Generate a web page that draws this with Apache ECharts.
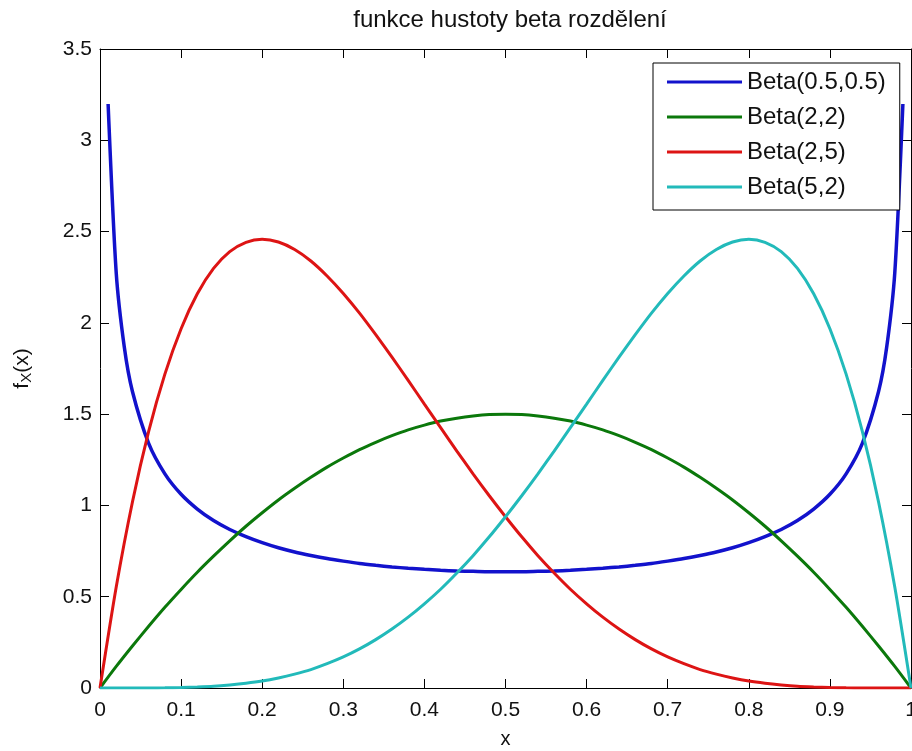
<!DOCTYPE html>
<html>
<head>
<meta charset="utf-8">
<script src="https://cdn.jsdelivr.net/npm/echarts@6/dist/echarts.min.js"></script>
<style>
  html, body { margin: 0; padding: 0; background: #fff; }
  #chart { width: 912px; height: 751px; }
</style>
</head>
<body>
<div id="chart"></div>
<script>
// Beta density curves, sampled values
const xGrid = [0, 0.02, 0.04, 0.06, 0.08, 0.10, 0.12, 0.14, 0.16, 0.18, 0.20, 0.22, 0.24, 0.26, 0.28, 0.30,
  0.32, 0.34, 0.36, 0.38, 0.40, 0.42, 0.44, 0.46, 0.48, 0.50, 0.52, 0.54, 0.56, 0.58, 0.60, 0.62, 0.64,
  0.66, 0.68, 0.70, 0.72, 0.74, 0.76, 0.78, 0.80, 0.82, 0.84, 0.86, 0.88, 0.90, 0.92, 0.94, 0.96, 0.98, 1.00];

const xArcsine = [0.01, 0.02, 0.03, 0.04, 0.06, 0.08, 0.10, 0.12, 0.14, 0.16, 0.18, 0.20, 0.22, 0.24, 0.26,
  0.28, 0.30, 0.32, 0.34, 0.36, 0.38, 0.40, 0.42, 0.44, 0.46, 0.48, 0.50, 0.52, 0.54, 0.56, 0.58, 0.60,
  0.62, 0.64, 0.66, 0.68, 0.70, 0.72, 0.74, 0.76, 0.78, 0.80, 0.82, 0.84, 0.86, 0.88, 0.90, 0.92, 0.94,
  0.96, 0.97, 0.98, 0.99];

const beta05_05 = [3.199, 2.274, 1.866, 1.624, 1.340, 1.173, 1.061, 0.980, 0.917, 0.868, 0.829, 0.796,
  0.768, 0.745, 0.726, 0.709, 0.695, 0.682, 0.672, 0.663, 0.656, 0.650, 0.645, 0.641, 0.639, 0.637, 0.637,
  0.637, 0.639, 0.641, 0.645, 0.650, 0.656, 0.663, 0.672, 0.682, 0.695, 0.709, 0.726, 0.745, 0.768, 0.796,
  0.829, 0.868, 0.917, 0.980, 1.061, 1.173, 1.340, 1.624, 1.866, 2.274, 3.199];

const beta2_2 = [0, 0.118, 0.230, 0.338, 0.442, 0.540, 0.634, 0.722, 0.806, 0.886, 0.960, 1.030, 1.094,
  1.154, 1.210, 1.260, 1.306, 1.346, 1.382, 1.414, 1.440, 1.462, 1.478, 1.490, 1.498, 1.500, 1.498, 1.490,
  1.478, 1.462, 1.440, 1.414, 1.382, 1.346, 1.306, 1.260, 1.210, 1.154, 1.094, 1.030, 0.960, 0.886, 0.806,
  0.722, 0.634, 0.540, 0.442, 0.338, 0.230, 0.118, 0];

const beta2_5 = [0, 0.553, 1.019, 1.405, 1.719, 1.968, 2.159, 2.298, 2.390, 2.441, 2.458, 2.443, 2.402,
  2.339, 2.257, 2.161, 2.053, 1.935, 1.812, 1.685, 1.555, 1.426, 1.298, 1.173, 1.053, 0.938, 0.828, 0.725,
  0.630, 0.541, 0.461, 0.388, 0.323, 0.265, 0.214, 0.170, 0.133, 0.101, 0.076, 0.055, 0.038, 0.026, 0.017,
  0.010, 0.006, 0.003, 0.001, 0.000, 0.000, 0, 0];

const beta5_2 = [0, 0, 0.000, 0.000, 0.001, 0.003, 0.006, 0.010, 0.017, 0.026, 0.038, 0.055, 0.076, 0.101,
  0.133, 0.170, 0.214, 0.265, 0.323, 0.388, 0.461, 0.541, 0.630, 0.725, 0.828, 0.938, 1.053, 1.173, 1.298,
  1.426, 1.555, 1.685, 1.812, 1.935, 2.053, 2.161, 2.257, 2.339, 2.402, 2.443, 2.458, 2.441, 2.390, 2.298,
  2.159, 1.968, 1.719, 1.405, 1.019, 0.553, 0];

const seriesNames = ['Beta(0.5,0.5)', 'Beta(2,2)', 'Beta(2,5)', 'Beta(5,2)'];
const seriesColors = ['#1212cc', '#0b780b', '#dd1414', '#22baba'];

const xTicks = [0, 0.1, 0.2, 0.3, 0.4, 0.5, 0.6, 0.7, 0.8, 0.9, 1];
const yTicks = [0, 0.5, 1, 1.5, 2, 2.5, 3, 3.5];

const pair = (xs, ys) => xs.map((x, i) => [x, ys[i]]);

const FONT = '"Liberation Sans", Arial, sans-serif';

const chart = echarts.init(document.getElementById('chart'), null, { renderer: 'canvas' });

// black box edges with inward ticks on all four sides
const axisLine = () => ({ show: true, onZero: false, lineStyle: { color: '#000', width: 1 } });
const axisTick = () => ({ show: true, inside: true, length: 9, lineStyle: { color: '#000', width: 1 } });

const curve = (i, xs, ys, width) => ({
  name: seriesNames[i], type: 'line', data: pair(xs, ys),
  symbol: 'none', smooth: 0.25,
  color: seriesColors[i], lineStyle: { width: width, color: seriesColors[i] }
});

chart.setOption({
  animation: false,
  backgroundColor: '#fff',
  title: {
    text: 'funkce hustoty beta rozdělení',
    left: 505, top: 3, textAlign: 'center',
    textStyle: { fontFamily: FONT, fontSize: 24, fontWeight: 'normal', color: '#111' }
  },
  grid: { left: 100, right: 1, top: 49, bottom: 63, containLabel: false, outerBoundsMode: 'none' },
  legend: {
    data: seriesNames,
    orient: 'vertical',
    left: 653, top: 63,
    padding: [7, 14, 11, 14],
    itemGap: 11,
    itemWidth: 75,
    itemHeight: 24,
    itemTextGap: 10,
    backgroundColor: '#fff',
    borderColor: '#000',
    borderWidth: 1,
    borderRadius: 0,
    icon: 'path://M0,11 L75,11 L75,14 L0,14 Z',
    textStyle: { fontFamily: FONT, fontSize: 24, color: '#111' }
  },
  xAxis: [{
    type: 'value', min: 0, max: 1, interval: 0.1, position: 'bottom',
    name: 'x', nameLocation: 'middle', nameGap: 41,
    nameTextStyle: { fontFamily: FONT, fontSize: 20, color: '#111' },
    axisLine: axisLine(), axisTick: axisTick(),
    axisLabel: {
      margin: 12, fontFamily: FONT, fontSize: 21, color: '#111',
      formatter: v => String(xTicks.find(t => Math.abs(t - v) < 1e-9) ?? v)
    },
    splitLine: { show: false }
  }, {
    type: 'value', min: 0, max: 1, interval: 0.1, position: 'top',
    axisLine: axisLine(), axisTick: axisTick(),
    axisLabel: { show: false }, splitLine: { show: false }
  }],
  yAxis: [{
    type: 'value', min: 0, max: 3.5, interval: 0.5, position: 'left',
    name: '{f|f}{s|X}{f|(x)}', nameLocation: 'middle', nameGap: 66, nameRotate: 90,
    nameTextStyle: {
      rich: {
        f: { fontFamily: FONT, fontSize: 21, color: '#111' },
        s: { fontFamily: FONT, fontSize: 15, color: '#111', verticalAlign: 'bottom', padding: [8, 0, 0, 0] }
      }
    },
    axisLine: axisLine(), axisTick: axisTick(),
    axisLabel: {
      margin: 8, fontFamily: FONT, fontSize: 21, color: '#111',
      formatter: v => String(yTicks.find(t => Math.abs(t - v) < 1e-9) ?? v)
    },
    splitLine: { show: false }
  }, {
    type: 'value', min: 0, max: 3.5, interval: 0.5, position: 'right',
    axisLine: axisLine(), axisTick: axisTick(),
    axisLabel: { show: false }, splitLine: { show: false }
  }],
  series: [
    curve(0, xArcsine, beta05_05, 3.5),
    curve(1, xGrid, beta2_2, 3),
    curve(2, xGrid, beta2_5, 3),
    curve(3, xGrid, beta5_2, 3)
  ]
});
</script>
</body>
</html>
